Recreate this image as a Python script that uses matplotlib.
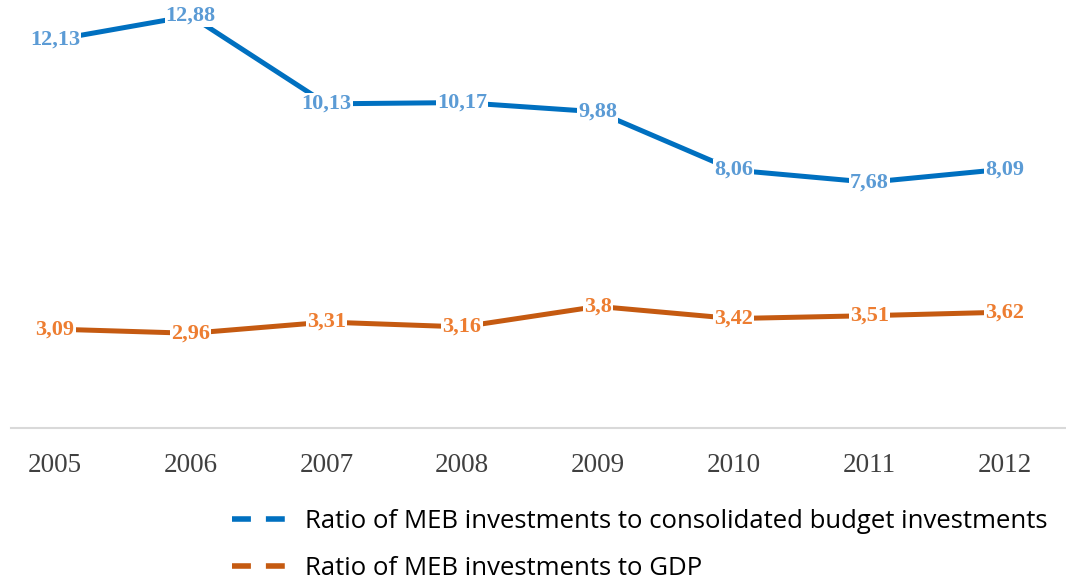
"""MEB investment ratios, 2005-2012, two labelled lines."""

import matplotlib
matplotlib.use("Agg")
import matplotlib.pyplot as plt
from matplotlib.lines import Line2D

years = ["2005", "2006", "2007", "2008", "2009", "2010", "2011", "2012"]
budget_ratio = [12.13, 12.88, 10.13, 10.17, 9.88, 8.06, 7.68, 8.09]
gdp_ratio = [3.09, 2.96, 3.31, 3.16, 3.8, 3.42, 3.51, 3.62]
labels = [
    "Ratio of MEB investments to consolidated budget investments",
    "Ratio of MEB investments to GDP",
]

SERIES = [
    (budget_ratio, "#0070C0", "#5B9BD5"),
    (gdp_ratio, "#C55A11", "#ED7D31"),
]


def fmt(v):
    return f"{v:g}".replace(".", ",")


fig = plt.figure(figsize=(10.66, 5.8), dpi=100)
# axes: bottom at y=428px, top at figure top; left at x=11px to right edge
ax = fig.add_axes([11 / 1066, 152 / 580, 1055 / 1066, 428 / 580])

x = list(range(len(years)))
for vals, line_c, text_c in SERIES:
    ax.plot(x, vals, color=line_c, linewidth=3.6, solid_capstyle="butt", zorder=2)
    for xi, v in zip(x, vals):
        ax.text(xi, v, fmt(v), ha="center", va="center", color=text_c,
                family="Liberation Serif", fontsize=16, fontweight="bold",
                zorder=3, clip_on=False,
                bbox=dict(boxstyle="square,pad=0.05", fc="white", ec="none"))

ax.set_xlim(-0.324, 7.45)
ax.set_ylim(0, 13.375)
for s in ["top", "right", "left"]:
    ax.spines[s].set_visible(False)
ax.spines["bottom"].set_color("#D9D9D9")
ax.spines["bottom"].set_linewidth(1.5)
ax.set_yticks([])
ax.set_xticks(x)
ax.set_xticklabels(years, family="Liberation Serif", fontsize=19.5, color="#404040")
ax.tick_params(axis="x", length=0, pad=18)

handles = [Line2D([], [], color=c, linewidth=4, linestyle=(0, (3.4, 2.7)),
                  dash_capstyle="butt")
           for _, c, _ in SERIES]
fig.legend(handles, labels, loc="upper left", bbox_to_anchor=(232 / 1066, 1 - 509 / 580),
           frameon=False, borderpad=0, borderaxespad=0,
           handlelength=2.15, handletextpad=0.7, labelspacing=0.84,
           prop={"family": "Open Sans", "size": 18.5})

fig.savefig("out.png", dpi=100)
